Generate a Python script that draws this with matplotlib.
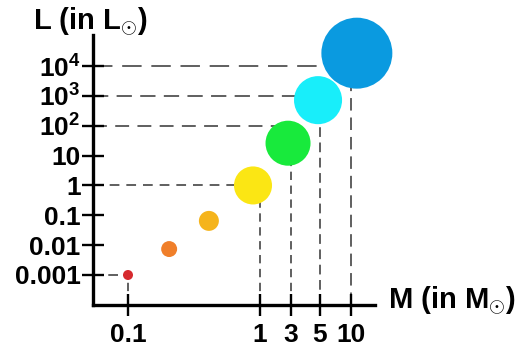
import matplotlib.pyplot as plt
import numpy as np

plt.rcParams['font.family'] = ['Liberation Sans', 'DejaVu Sans']
plt.rcParams['font.weight'] = 'bold'
plt.rcParams['mathtext.fontset'] = 'custom'
plt.rcParams['mathtext.rm'] = 'Liberation Sans:bold'
plt.rcParams['mathtext.it'] = 'Liberation Sans:bold'
plt.rcParams['mathtext.bf'] = 'Liberation Sans:bold'
plt.rcParams['lines.scale_dashes'] = False

# estrelas (massa em M_sol, luminosidade em L_sol)
massa = [0.1, 0.205, 0.41, 0.885, 2.7, 4.83, 11.4]
lum = [0.001, 0.0074, 0.065, 1.0, 26, 720, 27000]
cores = ['#d62a2e', '#f07f2a', '#f5b41c', '#fbe614', '#18ea3c', '#18eefa', '#0a9ae0']
tamanhos = [52, 132, 207, 750, 1050, 1197, 2611]

# linhas guia (massa marcada no eixo x, luminosidade marcada no eixo y)
guia_massa = [0.1, 1, 3, 5, 10]
guia_lum = [0.001, 1, 100, 1000, 10000]

xticks = [0.1, 1, 3, 5, 10]
xlabels = ['0.1', '1', '3', '5', '10']
yticks = [0.001, 0.01, 0.1, 1, 10, 100, 1000, 10000]
ylabels = ['0.001', '0.01', '0.1', '1', '10', '$10^2$', '$10^3$', '$10^4$']

# eixo x esquemático: pedaços lineares em log(M)
ancora_log = [-2, -1, 0, np.log10(3), np.log10(5), 1, 2]
ancora_u = [-4, 128, 260, 291, 320, 351, 454]


def ida(m):
    m = np.clip(np.asarray(m, dtype=float), 1e-6, None)
    return np.interp(np.log10(m), ancora_log, ancora_u)


def volta(u):
    return 10 ** np.interp(u, ancora_u, ancora_log)


fig = plt.figure(figsize=(5.2, 3.51), dpi=100)
ax = fig.add_axes([93 / 520, 46 / 351, 282 / 520, 270 / 351])
ax.set_xscale('function', functions=(ida, volta))
ax.set_yscale('log')
xmin, xmax = volta(93), volta(375)
ymin, ymax = 10 ** -4.005, 10 ** 5.04
ax.set_xlim(xmin, xmax)
ax.set_ylim(ymin, ymax)

# linhas tracejadas
traco_h = [(7, 4), (7, 5), (10, 6), (11, 6), (14, 7)]
traco_v = [(6, 4), (6, 4), (6, 4), (7, 4), (9, 5)]
for m, l, th, tv in zip(guia_massa, guia_lum, traco_h, traco_v):
    ax.plot([xmin, m], [l, l], color='#444444', lw=1.2, dashes=th, zorder=1)
    ax.plot([m, m], [ymin, l], color='#444444', lw=1.2, dashes=tv, zorder=1)

ax.scatter(massa, lum, s=tamanhos, c=cores, linewidths=0, zorder=3, clip_on=False)

ax.set_xticks(xticks)
ax.set_xticklabels(xlabels)
ax.set_yticks(yticks)
ax.set_yticklabels(ylabels)
ax.minorticks_off()
ax.tick_params(direction='inout', length=16, width=1.7, labelsize=19, pad=1, color='black')
ax.tick_params(axis='x', pad=5)

for lado in ['top', 'right']:
    ax.spines[lado].set_visible(False)
for lado in ['left', 'bottom']:
    ax.spines[lado].set_linewidth(2.4)
    ax.spines[lado].set_zorder(4)

fig.text(33 / 520, 1 - 22 / 351, r'L (in L$_{\odot}$)', fontsize=21, fontweight='bold', ha='left', va='center')
fig.text(388 / 520, 1 - 301 / 351, r'M (in M$_{\odot}$)', fontsize=21, fontweight='bold', ha='left', va='center')

fig.savefig('out.png', dpi=100)
